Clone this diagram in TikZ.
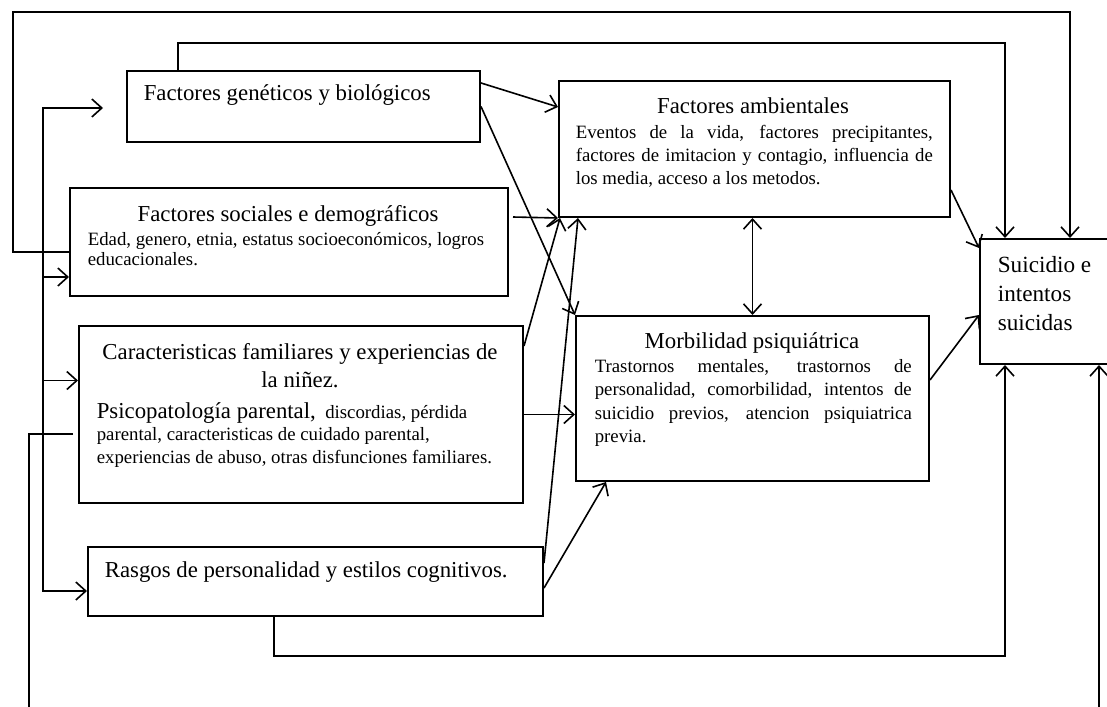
\documentclass[tikz,border=0pt]{standalone}
\usepackage{fontspec}
\setmainfont{Liberation Serif}
\usetikzlibrary{arrows.meta,fit}

\newcommand\boxtitle{\fontsize{11.4}{14}\selectfont}
\newcommand\boxbody{\fontsize{9.4}{11.25}\selectfont}

\begin{document}
\begin{tikzpicture}[x=0.5pt,y=-0.5pt,line width=0.8pt,
           >={Straight Barb[length=5pt,width=9pt]},
           box/.style={draw,line width=1pt,inner sep=0pt},
           txt/.style={inner sep=0pt}]
           \useasboundingbox (0,0) rectangle (1107,706);
           \clip (0,0) rectangle (1107,706);
           \fill[white] (0,0) rectangle (1107,706);
           % boxes
           \node[box,fit={(127,71)(480,142)}] (gen) {};
           \node[box,fit={(70,188)(508,296)}] (soc) {};
           \node[box,fit={(79,326)(523,503)}] (fam) {};
           \node[box,fit={(88,547)(543,616)}] (ras) {};
           \node[box,fit={(559,81)(950,217)}] (amb) {};
           \node[box,fit={(576,316)(929,481)}] (mor) {};
           \node[box,fit={(980,239)(1125,364)}] (sui) {};
           % texts (base = last line)
           \node[txt,anchor=base west] (genT) at (143,101)
             {\boxtitle Factores genéticos y biológicos};
           \node[txt,anchor=base] (socT) at (288,221)
             {\boxtitle Factores sociales e demográficos};
           \node[txt,anchor=base west,align=left,font=\fontsize{9.4}{10}\selectfont] (socB) at (87,265)
             {Edad, genero, etnia, estatus socioeconómicos, logros\\educacionales.};
           \node[txt,anchor=base,align=center,font=\boxtitle] (famT) at (300,387)
             {Caracteristicas familiares y experiencias de\\la niñez.};
           \node[txt,anchor=base west,align=left,font=\boxbody] (famB) at (96,463)
             {{\boxtitle Psicopatología parental,}\ \ discordias, pérdida\\
              parental, caracteristicas de cuidado parental,\\
              experiencias de abuso, otras disfunciones familiares.};
           \node[txt,anchor=base west] (rasT) at (104,577)
             {\boxtitle Rasgos de personalidad y estilos cognitivos.};
           \node[txt,anchor=base] (ambT) at (753,113)
             {\boxtitle Factores ambientales};
           \node[txt,anchor=base west,text width=178.5pt,align=justify,font=\boxbody] (ambB) at (575,139)
             {Eventos de la vida, factores precipitantes,\linebreak
              factores de imitacion y contagio, influencia de\linebreak
              los media, acceso a los metodos.};
           \node[txt,anchor=base] (morT) at (752,348)
             {\boxtitle Morbilidad psiquiátrica};
           \node[txt,anchor=base west,text width=158.5pt,align=justify,
                 font=\fontsize{9.4}{11.75}\selectfont] (morB) at (594,372)
             {Trastornos mentales, trastornos de\linebreak
              personalidad, comorbilidad, intentos de\linebreak
              suicidio previos, atencion psiquiatrica\linebreak
              previa.};
           \node[txt,anchor=base west,align=left,font=\fontsize{11.6}{14.5}\selectfont] (suiT) at (997,330)
             {Suicidio e\\intentos\\suicidas};
           % routing points
           \coordinate (loopA) at (13,12);
           \coordinate (loopB) at (1005,43);
           \coordinate (sp1) at (43,108);
           \coordinate (sp2) at (43,591);
           \coordinate (bl) at (29,712);
           \coordinate (br) at (1099,712);
           \coordinate (spTop) at ([xshift=-11.5pt]gen.west |- sp1);
           % loops over the top
           \draw[->] ([yshift=-5pt]soc.west) -| (loopA) -| ([xshift=45.5pt]sui.north west);
           \draw[->] ([xshift=26pt]gen.north west) |- (loopB) -- (loopB |- sui.north);
           % left spine
           \draw[->] (sp2) |- (spTop);
           \draw[->] (sp1) |- (sp2 -| ras.west);
           \draw[->] ([yshift=-17.5pt]soc.west -| sp1) -- ([yshift=-17.5pt]soc.west);
           \draw[->] ([yshift=17pt]fam.west -| sp1) -- ([yshift=17pt]fam.west);
           \draw ([xshift=-2.5pt,yshift=-9.75pt]fam.west) -| (bl);
           % loops underneath
           \draw[->] ([xshift=93.5pt]ras.south west) -- ++(0,39) -| ([xshift=13pt]sui.south west);
           \draw[->] (br) -- (br |- sui.south);
           % crossing arrows
           \draw[->] ([yshift=11.75pt]gen.east) -- ([yshift=21pt]amb.west);
           \draw[->] (gen.east) -- (mor.north west);
           \draw[->] ([xshift=2pt,yshift=12.5pt]soc.east) -- (amb.south west);
           \draw[->] ([yshift=-10.5pt]fam.north east) -- ([xshift=1pt]amb.south west);
           \draw[->] (fam.east) -- (fam.east -| mor.west);
           \draw[->] ([yshift=9.25pt]ras.east) -- ([xshift=10pt]amb.south west);
           \draw[->] ([yshift=-3.25pt]ras.east) -- ([xshift=15.5pt]mor.south west);
           \draw[<->] (amb.south -| mor.north) -- (mor.north);
           \draw[->] ([yshift=-20.5pt]amb.east) -- ([yshift=-5pt]sui.north west);
           \draw[->] ([yshift=9.25pt]mor.east) -- ([yshift=-6.75pt]sui.west);
         \end{tikzpicture}
\end{document}
